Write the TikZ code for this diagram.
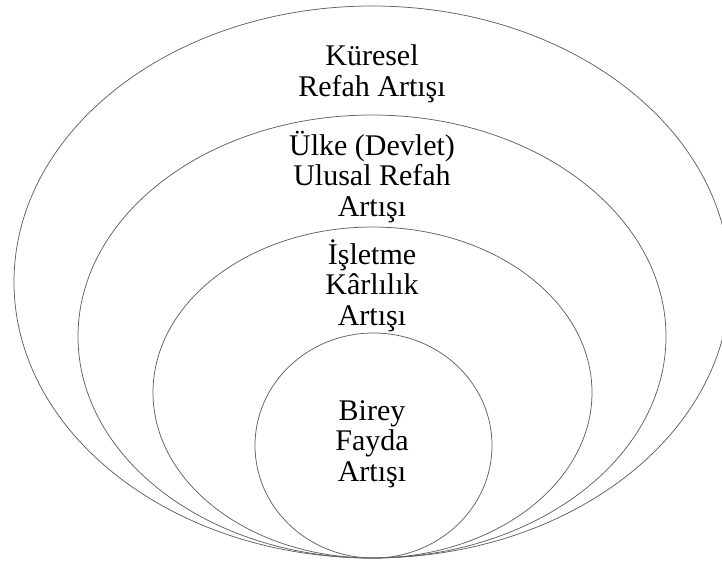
\documentclass[tikz,border=0pt]{standalone}
\usepackage{fontspec}
\setmainfont{Liberation Serif}
\usetikzlibrary{shapes.geometric}

\tikzset{
  ring/.style={ellipse, draw=black!62, line width=0.75pt, inner sep=0pt},
  % anchored at the baseline of the last line of each caption
  label/.style={align=center, inner sep=0pt, anchor=base,
    font=\fontsize{30}{30.5}\selectfont}
}

\begin{document}
\begin{tikzpicture}[x=1pt, y=-1pt]
  \useasboundingbox (0,0) rectangle (722,563);

  % nested circles of welfare, all touching at the bottom
  \node[ring, minimum width=716pt, minimum height=552pt] (global)   at (372,282)   {};
  \node[ring, minimum width=588pt, minimum height=443pt] (country)  at (372,336.5) {};
  \node[ring, minimum width=439pt, minimum height=331pt] (firm)     at (372.5,392.5) {};
  \node[ring, minimum width=237pt, minimum height=225pt] (person)   at (373.5,445.5) {};

  % captions
  \node[label] (tglobal)  at (372,96)  {Küresel\\Refah Artışı};
  \node[label] (tcountry) at (372,216) {Ülke (Devlet)\\Ulusal Refah\\Artışı};
  \node[label] (tfirm)    at (372,325) {İşletme\\Kârlılık\\Artışı};
  \node[label] (tperson)  at (372,481) {Birey\\Fayda\\Artışı};
\end{tikzpicture}
\end{document}
